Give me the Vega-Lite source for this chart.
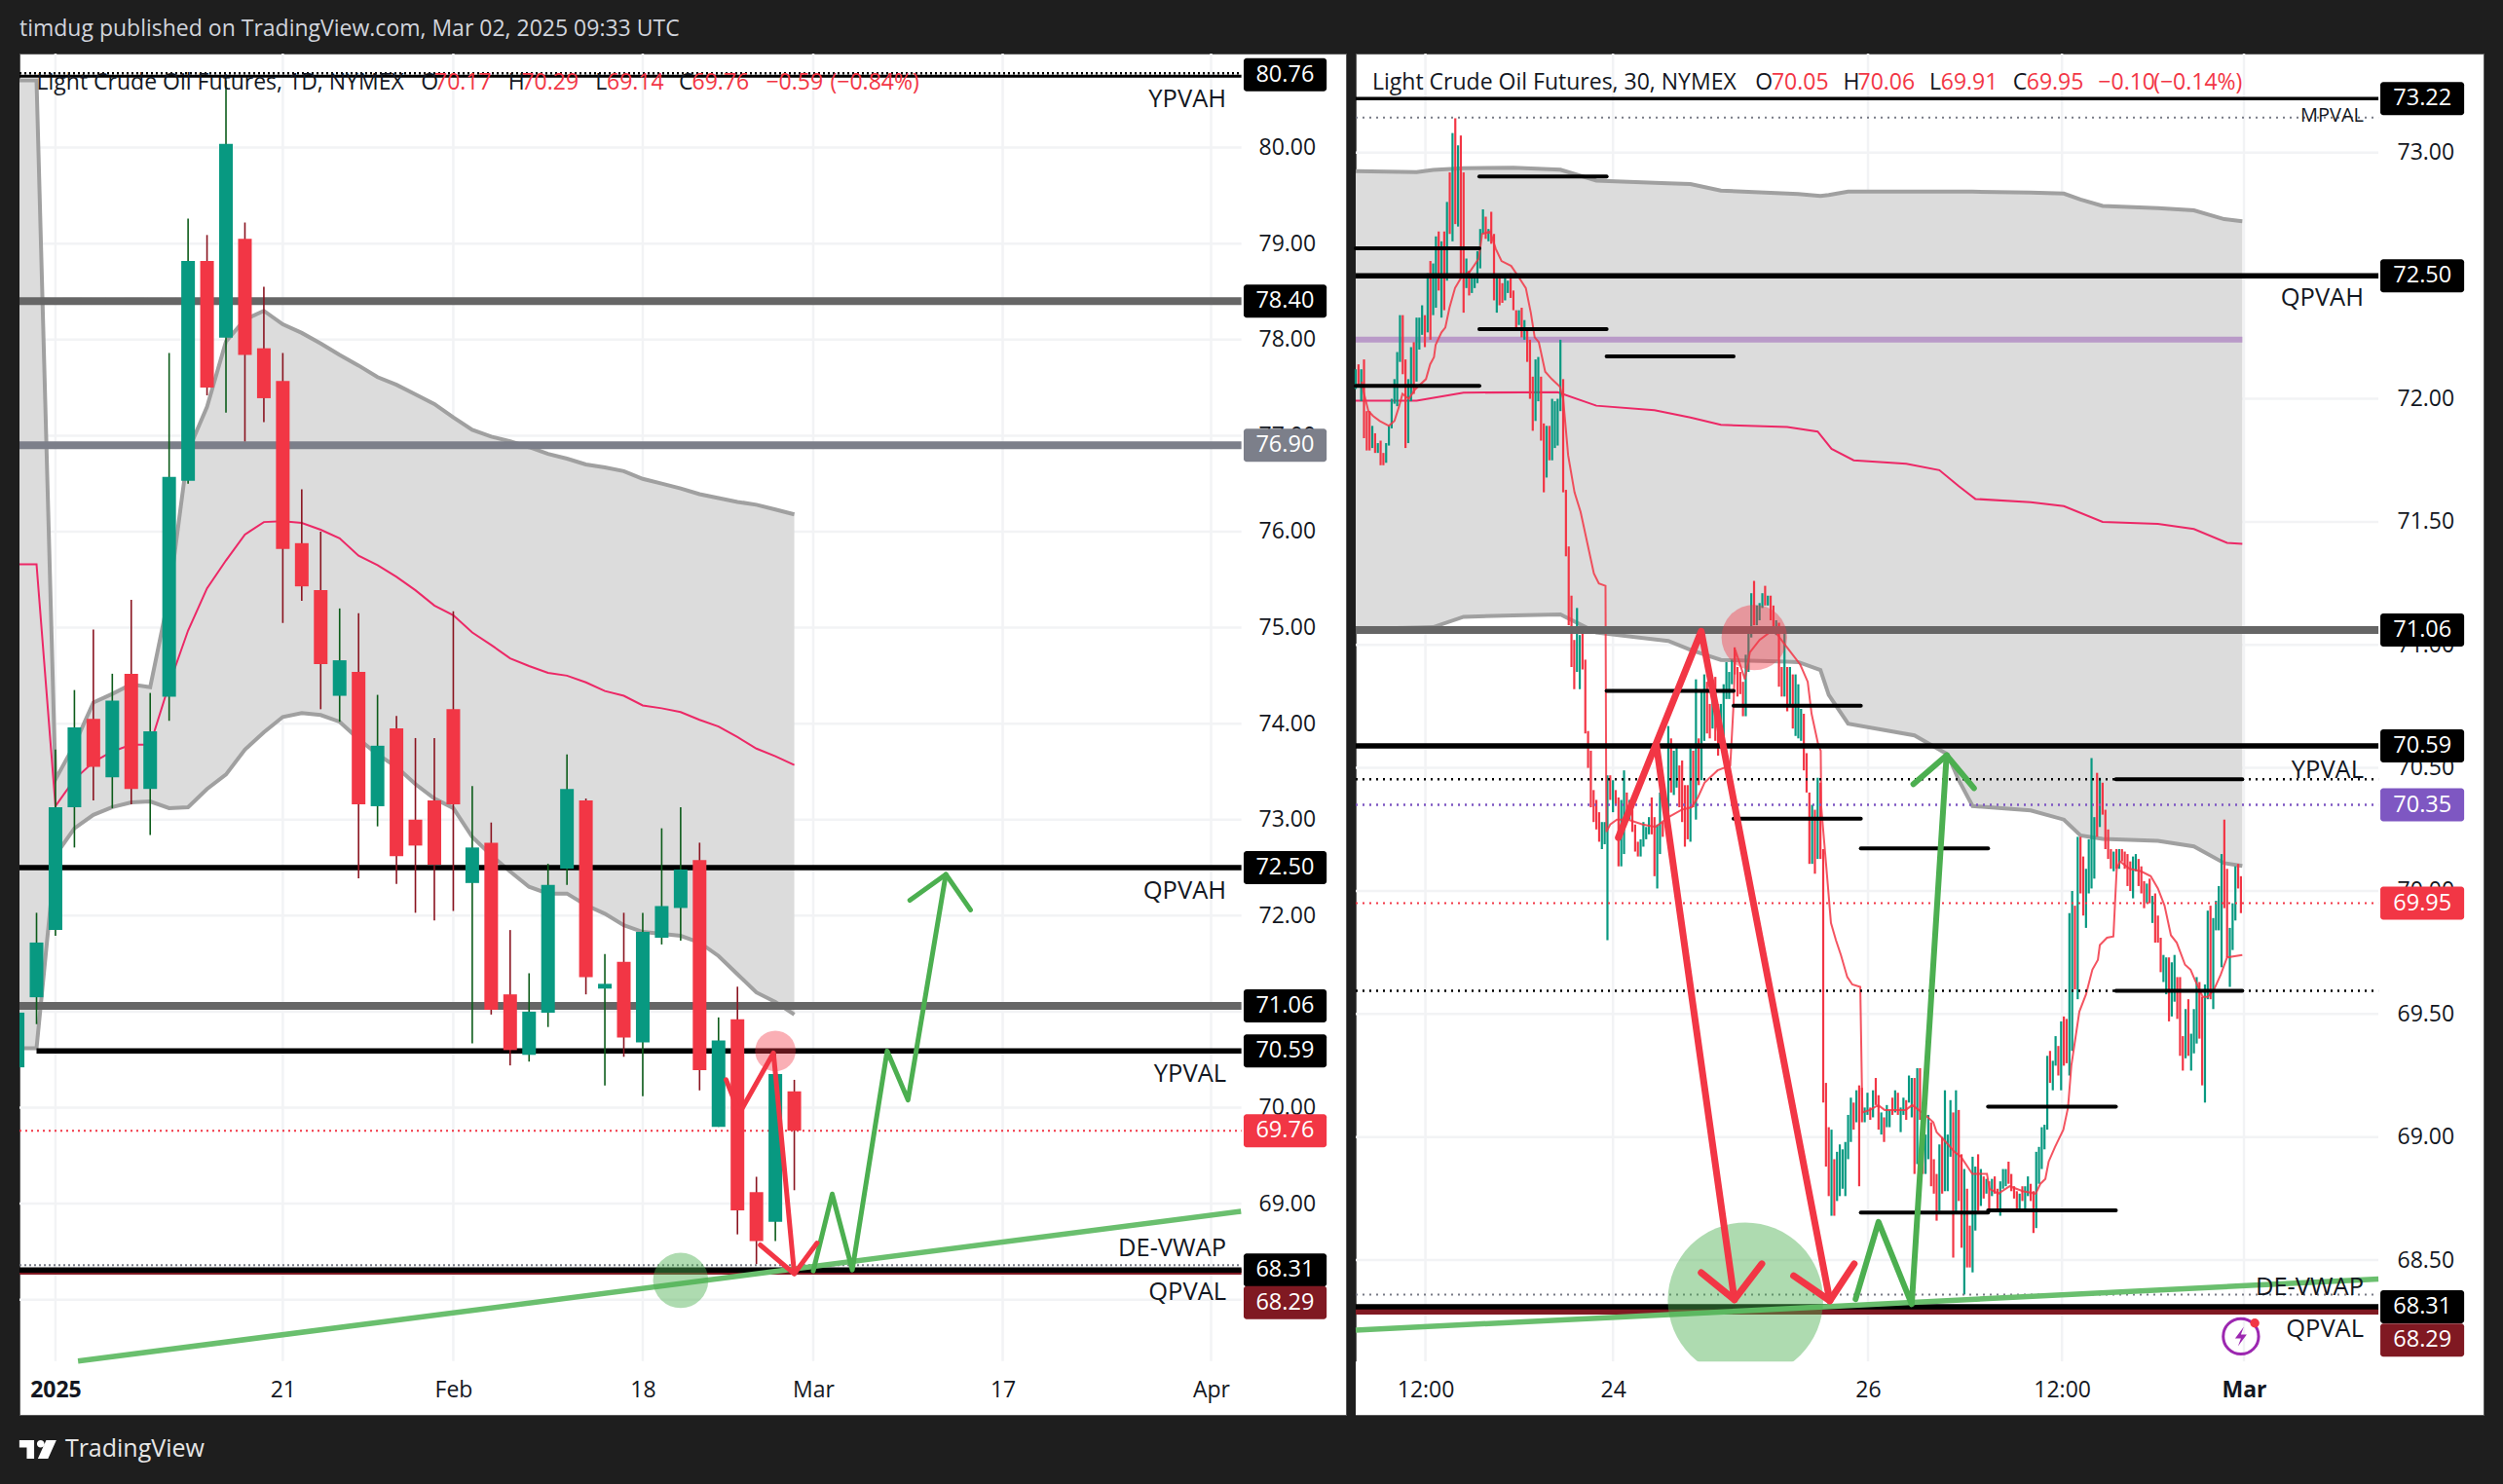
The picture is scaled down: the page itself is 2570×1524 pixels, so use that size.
{
  "$schema": "https://vega.github.io/schema/vega-lite/v6.json",
  "background": "#1e1e1e",
  "padding": {"left": 15, "top": 19, "right": 20, "bottom": 29},
  "title": {"text": "timdug published on TradingView.com, Mar 02, 2025 09:33 UTC", "anchor": "start", "frame": "group", "color": "#d1d4dc", "font": "Open Sans", "fontSize": 23, "fontWeight": "normal", "offset": 11},
  "config": {"view": {"fill": "white", "stroke": "#5a5a5a"}, "font": "Open Sans"},
  "spacing": 10,
  "bounds": "flush",
  "datasets": {
    "leftBars": [
      {"i":-2,"o":70.42,"h":71.0,"l":70.42,"c":70.99,"d":"g"},{"i":-1,"o":71.15,"h":72.03,"l":70.87,"c":71.72,"d":"g"},{"i":0,"o":71.85,"h":73.73,"l":71.79,"c":73.13,"d":"g"},{"i":1,"o":73.13,"h":74.35,"l":72.71,"c":73.96,"d":"g"},{"i":2,"o":74.05,"h":74.98,"l":73.2,"c":73.55,"d":"r"},{"i":3,"o":73.44,"h":74.52,"l":73.12,"c":74.24,"d":"g"},{"i":4,"o":74.52,"h":75.29,"l":73.16,"c":73.32,"d":"r"},{"i":5,"o":73.32,"h":74.32,"l":72.84,"c":73.92,"d":"g"},{"i":6,"o":74.28,"h":77.86,"l":74.03,"c":76.57,"d":"g"},{"i":7,"o":76.53,"h":79.26,"l":76.5,"c":78.82,"d":"g"},
      {"i":8,"o":78.82,"h":79.09,"l":77.42,"c":77.5,"d":"r"},{"i":9,"o":78.02,"h":80.7,"l":77.24,"c":80.04,"d":"g"},{"i":10,"o":79.05,"h":79.22,"l":76.94,"c":77.84,"d":"r"},{"i":11,"o":77.91,"h":78.55,"l":77.14,"c":77.39,"d":"r"},{"i":12,"o":77.57,"h":77.86,"l":75.05,"c":75.82,"d":"r"},{"i":13,"o":75.88,"h":76.44,"l":75.28,"c":75.43,"d":"r"},{"i":14,"o":75.39,"h":76.0,"l":74.15,"c":74.62,"d":"r"},{"i":15,"o":74.29,"h":75.2,"l":74.02,"c":74.66,"d":"g"},{"i":16,"o":74.54,"h":75.15,"l":72.39,"c":73.16,"d":"r"},{"i":17,"o":73.14,"h":74.3,"l":72.93,"c":73.77,"d":"g"},
      {"i":18,"o":73.95,"h":74.08,"l":72.33,"c":72.62,"d":"r"},{"i":19,"o":73.0,"h":73.85,"l":72.03,"c":72.73,"d":"r"},{"i":20,"o":73.2,"h":73.85,"l":71.95,"c":72.53,"d":"r"},{"i":21,"o":74.15,"h":75.17,"l":72.05,"c":73.16,"d":"r"},{"i":22,"o":72.34,"h":73.35,"l":70.67,"c":72.71,"d":"g"},{"i":23,"o":72.76,"h":72.97,"l":70.97,"c":71.02,"d":"r"},{"i":24,"o":71.18,"h":71.85,"l":70.44,"c":70.6,"d":"r"},{"i":25,"o":70.55,"h":71.4,"l":70.48,"c":71.0,"d":"g"},{"i":26,"o":70.99,"h":72.54,"l":70.84,"c":72.32,"d":"g"},{"i":27,"o":72.49,"h":73.68,"l":72.32,"c":73.32,"d":"g"},
      {"i":28,"o":73.2,"h":73.22,"l":71.18,"c":71.36,"d":"r"},{"i":29,"o":71.24,"h":71.6,"l":70.23,"c":71.29,"d":"g"},{"i":30,"o":71.52,"h":72.03,"l":70.53,"c":70.73,"d":"r"},{"i":31,"o":70.68,"h":72.03,"l":70.12,"c":71.83,"d":"g"},{"i":32,"o":71.77,"h":72.91,"l":71.7,"c":72.1,"d":"g"},{"i":33,"o":72.08,"h":73.13,"l":71.74,"c":72.48,"d":"g"},{"i":34,"o":72.58,"h":72.76,"l":70.18,"c":70.39,"d":"r"},{"i":35,"o":69.8,"h":70.94,"l":69.8,"c":70.7,"d":"g"},{"i":36,"o":70.92,"h":71.26,"l":68.68,"c":68.93,"d":"r"},{"i":37,"o":69.12,"h":69.28,"l":68.37,"c":68.61,"d":"r"},{"i":38,"o":68.81,"h":70.57,"l":68.61,"c":70.35,"d":"g"},{"i":39,"o":70.17,"h":70.29,"l":69.14,"c":69.76,"d":"r"}
    ],
    "leftBand": [
      {"i":-2,"upper":80.7,"lower":70.62,"mid":75.66},{"i":-1,"upper":80.7,"lower":70.62,"mid":75.66},{"i":0,"upper":73.42,"lower":72.63,"mid":73.14},{"i":1,"upper":73.78,"lower":72.91,"mid":73.42},{"i":2,"upper":74.22,"lower":73.05,"mid":73.6},{"i":3,"upper":74.31,"lower":73.13,"mid":73.71},{"i":4,"upper":74.41,"lower":73.18,"mid":73.78},{"i":5,"upper":74.38,"lower":73.19,"mid":73.78},{"i":6,"upper":75.34,"lower":73.12,"mid":74.41},{"i":7,"upper":76.84,"lower":73.13,"mid":74.97},
      {"i":8,"upper":77.3,"lower":73.32,"mid":75.41},{"i":9,"upper":77.98,"lower":73.47,"mid":75.7},{"i":10,"upper":78.21,"lower":73.73,"mid":75.97},{"i":11,"upper":78.3,"lower":73.91,"mid":76.1},{"i":12,"upper":78.16,"lower":74.07,"mid":76.11},{"i":13,"upper":78.07,"lower":74.11,"mid":76.09},{"i":14,"upper":77.96,"lower":74.09,"mid":76.02},{"i":15,"upper":77.84,"lower":74.02,"mid":75.93},{"i":16,"upper":77.73,"lower":73.84,"mid":75.75},{"i":17,"upper":77.61,"lower":73.68,"mid":75.65},
      {"i":18,"upper":77.53,"lower":73.55,"mid":75.53},{"i":19,"upper":77.43,"lower":73.37,"mid":75.39},{"i":20,"upper":77.33,"lower":73.22,"mid":75.23},{"i":21,"upper":77.19,"lower":73.12,"mid":75.13},{"i":22,"upper":77.06,"lower":72.82,"mid":74.95},{"i":23,"upper":76.99,"lower":72.63,"mid":74.82},{"i":24,"upper":76.94,"lower":72.46,"mid":74.68},{"i":25,"upper":76.88,"lower":72.3,"mid":74.6},{"i":26,"upper":76.81,"lower":72.23,"mid":74.53},{"i":27,"upper":76.76,"lower":72.23,"mid":74.5},
      {"i":28,"upper":76.7,"lower":72.11,"mid":74.43},{"i":29,"upper":76.67,"lower":72.02,"mid":74.34},{"i":30,"upper":76.63,"lower":71.9,"mid":74.29},{"i":31,"upper":76.55,"lower":71.83,"mid":74.19},{"i":32,"upper":76.5,"lower":71.81,"mid":74.16},{"i":33,"upper":76.45,"lower":71.79,"mid":74.12},{"i":34,"upper":76.39,"lower":71.72,"mid":74.04},{"i":35,"upper":76.35,"lower":71.58,"mid":73.97},{"i":36,"upper":76.31,"lower":71.39,"mid":73.86},{"i":37,"upper":76.28,"lower":71.2,"mid":73.74},{"i":38,"upper":76.23,"lower":71.1,"mid":73.66},{"i":39,"upper":76.18,"lower":70.97,"mid":73.57}
    ],
    "rightBars": [
      {"b":0,"h":72.12,"l":72.04,"d":"g"},{"b":1,"h":72.14,"l":72.05,"d":"r"},{"b":2,"h":72.12,"l":71.99,"d":"g"},{"b":3,"h":72.16,"l":71.84,"d":"r"},{"b":4,"h":71.95,"l":71.79,"d":"r"},{"b":5,"h":71.95,"l":71.79,"d":"r"},{"b":6,"h":71.89,"l":71.8,"d":"g"},{"b":7,"h":71.86,"l":71.78,"d":"r"},{"b":8,"h":71.82,"l":71.78,"d":"g"},{"b":9,"h":71.83,"l":71.73,"d":"r"},
      {"b":10,"h":71.78,"l":71.73,"d":"r"},{"b":11,"h":71.82,"l":71.74,"d":"g"},{"b":12,"h":71.89,"l":71.81,"d":"g"},{"b":13,"h":72.0,"l":71.88,"d":"g"},{"b":14,"h":72.08,"l":71.98,"d":"g"},{"b":15,"h":72.19,"l":71.97,"d":"g"},{"b":16,"h":72.34,"l":72.15,"d":"g"},{"b":17,"h":72.34,"l":72.1,"d":"r"},{"b":18,"h":72.16,"l":71.8,"d":"r"},{"b":19,"h":72.08,"l":71.82,"d":"g"},
      {"b":20,"h":72.21,"l":71.99,"d":"g"},{"b":21,"h":72.23,"l":72.02,"d":"r"},{"b":22,"h":72.33,"l":72.07,"d":"g"},{"b":23,"h":72.33,"l":72.2,"d":"g"},{"b":24,"h":72.38,"l":72.26,"d":"g"},{"b":25,"h":72.34,"l":72.21,"d":"r"},{"b":26,"h":72.51,"l":72.27,"d":"g"},{"b":27,"h":72.56,"l":72.24,"d":"r"},{"b":28,"h":72.55,"l":72.34,"d":"g"},{"b":29,"h":72.66,"l":72.37,"d":"g"},
      {"b":30,"h":72.68,"l":72.44,"d":"r"},{"b":31,"h":72.64,"l":72.33,"d":"g"},{"b":32,"h":72.68,"l":72.36,"d":"r"},{"b":33,"h":72.8,"l":72.48,"d":"g"},{"b":34,"h":72.92,"l":72.67,"d":"r"},{"b":35,"h":73.08,"l":72.64,"d":"g"},{"b":36,"h":73.14,"l":72.71,"d":"r"},{"b":37,"h":73.03,"l":72.7,"d":"g"},{"b":38,"h":73.07,"l":72.49,"d":"r"},{"b":39,"h":72.92,"l":72.35,"d":"r"},
      {"b":40,"h":72.57,"l":72.45,"d":"g"},{"b":41,"h":72.52,"l":72.42,"d":"r"},{"b":42,"h":72.5,"l":72.43,"d":"g"},{"b":43,"h":72.5,"l":72.45,"d":"g"},{"b":44,"h":72.6,"l":72.47,"d":"g"},{"b":45,"h":72.69,"l":72.53,"d":"g"},{"b":46,"h":72.77,"l":72.67,"d":"g"},{"b":47,"h":72.74,"l":72.65,"d":"r"},{"b":48,"h":72.69,"l":72.64,"d":"g"},{"b":49,"h":72.76,"l":72.63,"d":"r"},
      {"b":50,"h":72.67,"l":72.4,"d":"r"},{"b":51,"h":72.49,"l":72.35,"d":"g"},{"b":52,"h":72.49,"l":72.38,"d":"r"},{"b":53,"h":72.47,"l":72.39,"d":"r"},{"b":54,"h":72.49,"l":72.4,"d":"g"},{"b":55,"h":72.48,"l":72.43,"d":"g"},{"b":56,"h":72.51,"l":72.41,"d":"r"},{"b":57,"h":72.44,"l":72.36,"d":"r"},{"b":58,"h":72.36,"l":72.29,"d":"r"},{"b":59,"h":72.36,"l":72.3,"d":"g"},
      {"b":60,"h":72.37,"l":72.25,"d":"r"},{"b":61,"h":72.32,"l":72.24,"d":"g"},{"b":62,"h":72.28,"l":72.15,"d":"r"},{"b":63,"h":72.24,"l":72.0,"d":"r"},{"b":64,"h":72.09,"l":71.87,"d":"r"},{"b":65,"h":72.16,"l":71.91,"d":"g"},{"b":66,"h":72.17,"l":71.99,"d":"g"},{"b":67,"h":72.09,"l":71.83,"d":"r"},{"b":68,"h":71.9,"l":71.62,"d":"r"},{"b":69,"h":71.89,"l":71.68,"d":"g"},
      {"b":70,"h":71.89,"l":71.75,"d":"r"},{"b":71,"h":72.0,"l":71.75,"d":"g"},{"b":72,"h":71.99,"l":71.8,"d":"g"},{"b":73,"h":72.0,"l":71.81,"d":"g"},{"b":74,"h":72.24,"l":71.95,"d":"g"},{"b":75,"h":72.08,"l":71.62,"d":"r"},{"b":76,"h":71.63,"l":71.36,"d":"r"},{"b":77,"h":71.4,"l":71.08,"d":"r"},{"b":78,"h":71.2,"l":70.91,"d":"r"},{"b":79,"h":71.02,"l":70.82,"d":"r"},
      {"b":80,"h":71.15,"l":70.89,"d":"g"},{"b":81,"h":71.04,"l":70.82,"d":"g"},{"b":82,"h":71.06,"l":70.9,"d":"r"},{"b":83,"h":70.94,"l":70.64,"d":"r"},{"b":84,"h":70.65,"l":70.5,"d":"r"},{"b":85,"h":70.57,"l":70.34,"d":"r"},{"b":86,"h":70.41,"l":70.28,"d":"r"},{"b":87,"h":70.37,"l":70.25,"d":"r"},{"b":88,"h":70.32,"l":70.2,"d":"r"},{"b":89,"h":70.28,"l":70.17,"d":"g"},
      {"b":90,"h":70.28,"l":70.19,"d":"g"},{"b":91,"h":70.47,"l":69.8,"d":"g"},{"b":92,"h":70.47,"l":70.37,"d":"r"},{"b":93,"h":70.45,"l":70.32,"d":"g"},{"b":94,"h":70.41,"l":70.35,"d":"r"},{"b":95,"h":70.38,"l":70.1,"d":"r"},{"b":96,"h":70.37,"l":70.1,"d":"g"},{"b":97,"h":70.49,"l":70.15,"d":"g"},{"b":98,"h":70.4,"l":70.3,"d":"r"},{"b":99,"h":70.37,"l":70.29,"d":"g"},
      {"b":100,"h":70.33,"l":70.24,"d":"r"},{"b":101,"h":70.27,"l":70.16,"d":"r"},{"b":102,"h":70.2,"l":70.14,"d":"r"},{"b":103,"h":70.21,"l":70.14,"d":"g"},{"b":104,"h":70.28,"l":70.18,"d":"g"},{"b":105,"h":70.26,"l":70.21,"d":"g"},{"b":106,"h":70.3,"l":70.23,"d":"g"},{"b":107,"h":70.38,"l":70.23,"d":"r"},{"b":108,"h":70.3,"l":70.06,"d":"r"},{"b":109,"h":70.27,"l":70.01,"d":"g"},
      {"b":110,"h":70.4,"l":70.15,"d":"g"},{"b":111,"h":70.28,"l":70.22,"d":"r"},{"b":112,"h":70.36,"l":70.26,"d":"r"},{"b":113,"h":70.67,"l":70.25,"d":"g"},{"b":114,"h":70.62,"l":70.4,"d":"r"},{"b":115,"h":70.57,"l":70.39,"d":"g"},{"b":116,"h":70.59,"l":70.42,"d":"g"},{"b":117,"h":70.51,"l":70.34,"d":"r"},{"b":118,"h":70.53,"l":70.28,"d":"r"},{"b":119,"h":70.43,"l":70.18,"d":"r"},
      {"b":120,"h":70.43,"l":70.21,"d":"r"},{"b":121,"h":70.58,"l":70.2,"d":"g"},{"b":122,"h":70.57,"l":70.34,"d":"r"},{"b":123,"h":70.86,"l":70.29,"d":"g"},{"b":124,"h":70.62,"l":70.43,"d":"r"},{"b":125,"h":70.81,"l":70.45,"d":"g"},{"b":126,"h":70.88,"l":70.61,"d":"g"},{"b":127,"h":70.85,"l":70.64,"d":"r"},{"b":128,"h":70.76,"l":70.62,"d":"r"},{"b":129,"h":70.82,"l":70.66,"d":"g"},
      {"b":130,"h":70.87,"l":70.61,"d":"r"},{"b":131,"h":70.76,"l":70.55,"d":"r"},{"b":132,"h":70.76,"l":70.64,"d":"g"},{"b":133,"h":70.84,"l":70.59,"d":"g"},{"b":134,"h":70.93,"l":70.78,"d":"g"},{"b":135,"h":70.89,"l":70.78,"d":"g"},{"b":136,"h":70.94,"l":70.84,"d":"g"},{"b":137,"h":70.99,"l":70.88,"d":"r"},{"b":138,"h":70.91,"l":70.79,"d":"r"},{"b":139,"h":70.89,"l":70.8,"d":"r"},
      {"b":140,"h":70.85,"l":70.71,"d":"r"},{"b":141,"h":70.96,"l":70.71,"d":"g"},{"b":142,"h":71.06,"l":70.89,"d":"g"},{"b":143,"h":71.21,"l":71.03,"d":"g"},{"b":144,"h":71.26,"l":71.08,"d":"r"},{"b":145,"h":71.16,"l":71.08,"d":"g"},{"b":146,"h":71.17,"l":71.1,"d":"g"},{"b":147,"h":71.21,"l":71.15,"d":"g"},{"b":148,"h":71.24,"l":71.16,"d":"r"},{"b":149,"h":71.2,"l":71.16,"d":"g"},
      {"b":150,"h":71.2,"l":71.1,"d":"r"},{"b":151,"h":71.16,"l":71.06,"d":"r"},{"b":152,"h":71.1,"l":71.04,"d":"g"},{"b":153,"h":71.09,"l":70.83,"d":"r"},{"b":154,"h":70.91,"l":70.79,"d":"r"},{"b":155,"h":71.07,"l":70.79,"d":"g"},{"b":156,"h":70.91,"l":70.73,"d":"r"},{"b":157,"h":70.91,"l":70.75,"d":"g"},{"b":158,"h":70.88,"l":70.66,"d":"r"},{"b":159,"h":70.88,"l":70.63,"d":"g"},
      {"b":160,"h":70.84,"l":70.62,"d":"g"},{"b":161,"h":70.74,"l":70.61,"d":"g"},{"b":162,"h":70.72,"l":70.49,"d":"r"},{"b":163,"h":70.56,"l":70.4,"d":"r"},{"b":164,"h":70.4,"l":70.11,"d":"r"},{"b":165,"h":70.35,"l":70.11,"d":"g"},{"b":166,"h":70.33,"l":70.07,"d":"r"},{"b":167,"h":70.46,"l":70.13,"d":"g"},{"b":168,"h":70.44,"l":70.13,"d":"r"},{"b":169,"h":70.17,"l":69.14,"d":"r"},
      {"b":170,"h":69.22,"l":68.88,"d":"r"},{"b":171,"h":69.04,"l":68.76,"d":"r"},{"b":172,"h":69.03,"l":68.68,"d":"g"},{"b":173,"h":68.91,"l":68.68,"d":"r"},{"b":174,"h":68.94,"l":68.74,"d":"g"},{"b":175,"h":68.97,"l":68.76,"d":"g"},{"b":176,"h":68.95,"l":68.79,"d":"g"},{"b":177,"h":68.98,"l":68.76,"d":"g"},{"b":178,"h":69.09,"l":68.91,"d":"g"},{"b":179,"h":69.16,"l":68.98,"d":"g"},
      {"b":180,"h":69.14,"l":69.03,"d":"r"},{"b":181,"h":69.19,"l":69.06,"d":"g"},{"b":182,"h":69.21,"l":68.8,"d":"r"},{"b":183,"h":69.2,"l":69.06,"d":"r"},{"b":184,"h":69.12,"l":69.06,"d":"g"},{"b":185,"h":69.18,"l":69.09,"d":"g"},{"b":186,"h":69.12,"l":69.07,"d":"r"},{"b":187,"h":69.19,"l":69.08,"d":"g"},{"b":188,"h":69.24,"l":69.13,"d":"r"},{"b":189,"h":69.17,"l":69.03,"d":"r"},
      {"b":190,"h":69.1,"l":69.01,"d":"g"},{"b":191,"h":69.08,"l":68.98,"d":"r"},{"b":192,"h":69.13,"l":69.04,"d":"g"},{"b":193,"h":69.11,"l":69.04,"d":"g"},{"b":194,"h":69.16,"l":69.09,"d":"r"},{"b":195,"h":69.19,"l":69.1,"d":"g"},{"b":196,"h":69.18,"l":69.09,"d":"r"},{"b":197,"h":69.12,"l":69.02,"d":"g"},{"b":198,"h":69.16,"l":69.09,"d":"g"},{"b":199,"h":69.15,"l":69.07,"d":"r"},
      {"b":200,"h":69.25,"l":69.14,"d":"g"},{"b":201,"h":69.24,"l":69.08,"d":"g"},{"b":202,"h":69.24,"l":68.85,"d":"r"},{"b":203,"h":69.28,"l":68.89,"d":"g"},{"b":204,"h":69.28,"l":69.07,"d":"r"},{"b":205,"h":69.04,"l":68.85,"d":"r"},{"b":206,"h":69.01,"l":68.85,"d":"g"},{"b":207,"h":69.09,"l":68.91,"d":"g"},{"b":208,"h":69.06,"l":68.8,"d":"r"},{"b":209,"h":68.91,"l":68.77,"d":"r"},
      {"b":210,"h":68.85,"l":68.66,"d":"r"},{"b":211,"h":68.97,"l":68.7,"d":"g"},{"b":212,"h":69.0,"l":68.77,"d":"r"},{"b":213,"h":69.19,"l":68.78,"d":"g"},{"b":214,"h":69.01,"l":68.78,"d":"g"},{"b":215,"h":69.15,"l":68.92,"d":"g"},{"b":216,"h":69.1,"l":68.51,"d":"r"},{"b":217,"h":69.19,"l":68.69,"d":"g"},{"b":218,"h":69.11,"l":68.74,"d":"r"},{"b":219,"h":68.93,"l":68.55,"d":"r"},
      {"b":220,"h":68.87,"l":68.36,"d":"g"},{"b":221,"h":68.79,"l":68.47,"d":"r"},{"b":222,"h":68.64,"l":68.47,"d":"r"},{"b":223,"h":68.92,"l":68.45,"d":"g"},{"b":224,"h":68.88,"l":68.62,"d":"g"},{"b":225,"h":68.93,"l":68.7,"d":"r"},{"b":226,"h":68.87,"l":68.72,"d":"g"},{"b":227,"h":68.84,"l":68.75,"d":"r"},{"b":228,"h":68.83,"l":68.77,"d":"g"},{"b":229,"h":68.82,"l":68.7,"d":"r"},
      {"b":230,"h":68.83,"l":68.76,"d":"g"},{"b":231,"h":68.84,"l":68.77,"d":"r"},{"b":232,"h":68.79,"l":68.71,"d":"r"},{"b":233,"h":68.82,"l":68.68,"d":"g"},{"b":234,"h":68.87,"l":68.79,"d":"g"},{"b":235,"h":68.87,"l":68.8,"d":"g"},{"b":236,"h":68.9,"l":68.81,"d":"r"},{"b":237,"h":68.85,"l":68.78,"d":"r"},{"b":238,"h":68.8,"l":68.75,"d":"r"},{"b":239,"h":68.78,"l":68.7,"d":"r"},
      {"b":240,"h":68.77,"l":68.7,"d":"g"},{"b":241,"h":68.8,"l":68.74,"d":"r"},{"b":242,"h":68.8,"l":68.7,"d":"g"},{"b":243,"h":68.84,"l":68.76,"d":"g"},{"b":244,"h":68.81,"l":68.74,"d":"r"},{"b":245,"h":68.78,"l":68.61,"d":"r"},{"b":246,"h":68.94,"l":68.63,"d":"g"},{"b":247,"h":68.96,"l":68.81,"d":"g"},{"b":248,"h":69.04,"l":68.87,"d":"g"},{"b":249,"h":69.05,"l":68.95,"d":"g"},
      {"b":250,"h":69.33,"l":69.03,"d":"g"},{"b":251,"h":69.35,"l":69.22,"d":"r"},{"b":252,"h":69.31,"l":69.19,"d":"g"},{"b":253,"h":69.41,"l":69.29,"d":"g"},{"b":254,"h":69.37,"l":69.25,"d":"r"},{"b":255,"h":69.47,"l":69.19,"d":"g"},{"b":256,"h":69.49,"l":69.29,"d":"r"},{"b":257,"h":69.48,"l":69.3,"d":"r"},{"b":258,"h":69.91,"l":69.25,"d":"g"},{"b":259,"h":70.0,"l":69.35,"d":"g"},
      {"b":260,"h":69.94,"l":69.6,"d":"r"},{"b":261,"h":70.22,"l":69.56,"d":"g"},{"b":262,"h":70.22,"l":69.99,"d":"r"},{"b":263,"h":70.14,"l":69.9,"d":"r"},{"b":264,"h":70.09,"l":69.85,"d":"g"},{"b":265,"h":70.21,"l":69.99,"d":"g"},{"b":266,"h":70.54,"l":70.01,"d":"g"},{"b":267,"h":70.3,"l":70.05,"d":"g"},{"b":268,"h":70.48,"l":70.22,"d":"r"},{"b":269,"h":70.46,"l":70.26,"d":"g"},
      {"b":270,"h":70.44,"l":70.31,"d":"r"},{"b":271,"h":70.33,"l":70.17,"d":"r"},{"b":272,"h":70.25,"l":70.13,"d":"r"},{"b":273,"h":70.17,"l":70.09,"d":"r"},{"b":274,"h":70.16,"l":70.08,"d":"g"},{"b":275,"h":70.17,"l":70.09,"d":"r"},{"b":276,"h":70.17,"l":70.09,"d":"g"},{"b":277,"h":70.17,"l":70.12,"d":"r"},{"b":278,"h":70.16,"l":70.09,"d":"r"},{"b":279,"h":70.15,"l":70.02,"d":"r"},
      {"b":280,"h":70.12,"l":70.0,"d":"r"},{"b":281,"h":70.14,"l":69.97,"d":"g"},{"b":282,"h":70.15,"l":70.08,"d":"g"},{"b":283,"h":70.13,"l":70.02,"d":"r"},{"b":284,"h":70.1,"l":69.99,"d":"r"},{"b":285,"h":70.04,"l":69.93,"d":"r"},{"b":286,"h":70.03,"l":69.95,"d":"g"},{"b":287,"h":70.05,"l":69.95,"d":"r"},{"b":288,"h":69.98,"l":69.87,"d":"g"},{"b":289,"h":69.99,"l":69.79,"d":"r"},
      {"b":290,"h":69.9,"l":69.79,"d":"r"},{"b":291,"h":69.81,"l":69.67,"d":"r"},{"b":292,"h":69.74,"l":69.63,"d":"g"},{"b":293,"h":69.73,"l":69.58,"d":"g"},{"b":294,"h":69.73,"l":69.47,"d":"r"},{"b":295,"h":69.71,"l":69.49,"d":"g"},{"b":296,"h":69.74,"l":69.55,"d":"g"},{"b":297,"h":69.65,"l":69.48,"d":"r"},{"b":298,"h":69.65,"l":69.33,"d":"r"},{"b":299,"h":69.41,"l":69.27,"d":"r"},
      {"b":300,"h":69.52,"l":69.32,"d":"g"},{"b":301,"h":69.56,"l":69.33,"d":"r"},{"b":302,"h":69.42,"l":69.27,"d":"g"},{"b":303,"h":69.52,"l":69.34,"d":"g"},{"b":304,"h":69.65,"l":69.38,"d":"g"},{"b":305,"h":69.63,"l":69.4,"d":"r"},{"b":306,"h":69.57,"l":69.21,"d":"r"},{"b":307,"h":69.62,"l":69.14,"d":"g"},{"b":308,"h":69.92,"l":69.56,"d":"g"},{"b":309,"h":69.94,"l":69.56,"d":"r"},
      {"b":310,"h":69.89,"l":69.52,"d":"g"},{"b":311,"h":69.96,"l":69.84,"d":"g"},{"b":312,"h":70.02,"l":69.84,"d":"g"},{"b":313,"h":70.15,"l":69.69,"d":"g"},{"b":314,"h":70.29,"l":69.93,"d":"r"},{"b":315,"h":70.09,"l":69.73,"d":"r"},{"b":316,"h":69.85,"l":69.61,"d":"g"},{"b":317,"h":69.95,"l":69.76,"d":"g"},{"b":318,"h":70.1,"l":69.88,"d":"g"},{"b":319,"h":70.11,"l":70.01,"d":"r"},{"b":320,"h":70.06,"l":69.91,"d":"r"}
    ],
    "rightBand": [
      {"b":0,"upper":72.925,"lower":71.064},{"b":22,"upper":72.921,"lower":71.07},{"b":28,"upper":72.93,"lower":71.072},{"b":39,"upper":72.937,"lower":71.114},{"b":57,"upper":72.939,"lower":71.12},{"b":74,"upper":72.931,"lower":71.124},{"b":87,"upper":72.887,"lower":71.05},{"b":113,"upper":72.876,"lower":71.016},{"b":121,"upper":72.873,"lower":70.98},{"b":132,"upper":72.846,"lower":70.939},{"b":156,"upper":72.834,"lower":70.932},{"b":160,"upper":72.832,"lower":70.93},{"b":168,"upper":72.824,"lower":70.898},{"b":171,"upper":72.828,"lower":70.797},{"b":178,"upper":72.842,"lower":70.68},{"b":202,"upper":72.842,"lower":70.632},{"b":214,"upper":72.842,"lower":70.555},{"b":218,"upper":72.842,"lower":70.45},{"b":223,"upper":72.842,"lower":70.345},{"b":244,"upper":72.838,"lower":70.327},{"b":256,"upper":72.834,"lower":70.29},{"b":262,"upper":72.81,"lower":70.226},{"b":270,"upper":72.784,"lower":70.212},{"b":290,"upper":72.775,"lower":70.204},{"b":303,"upper":72.766,"lower":70.181},{"b":314,"upper":72.73,"lower":70.113},{"b":320.5,"upper":72.721,"lower":70.102}
    ],
    "rightMid": [
      {"b":0,"p":71.992},{"b":22,"p":71.992},{"b":39,"p":72.025},{"b":73,"p":72.027},{"b":87,"p":71.972},{"b":108,"p":71.954},{"b":121,"p":71.924},{"b":132,"p":71.894},{"b":156,"p":71.885},{"b":167,"p":71.867},{"b":172,"p":71.797},{"b":180,"p":71.75},{"b":199,"p":71.736},{"b":211,"p":71.71},{"b":218,"p":71.645},{"b":224,"p":71.593},{"b":244,"p":71.58},{"b":256,"p":71.564},{"b":270,"p":71.5},{"b":290,"p":71.492},{"b":303,"p":71.471},{"b":315,"p":71.415},{"b":320.5,"p":71.411}
    ],
    "rightEma": [
      {"b":2.2,"p":72.07},{"b":2.8,"p":72.03},{"b":4.6,"p":71.95},{"b":6.3,"p":71.93},{"b":8.7,"p":71.91},{"b":12,"p":71.89},{"b":14,"p":71.91},{"b":15.7,"p":71.97},{"b":16.9,"p":72.02},{"b":19.2,"p":72.0},{"b":21.6,"p":72.04},{"b":25.4,"p":72.08},{"b":26.9,"p":72.14},{"b":28.3,"p":72.17},{"b":28.9,"p":72.22},{"b":31,"p":72.27},{"b":32.4,"p":72.29},{"b":33.9,"p":72.37},{"b":35.9,"p":72.45},{"b":38,"p":72.49},{"b":41.5,"p":72.52},{"b":44.5,"p":72.57},{"b":45.7,"p":72.67},{"b":48.6,"p":72.68},{"b":50.6,"p":72.61},{"b":52.7,"p":72.56},{"b":56.2,"p":72.54},{"b":59.2,"p":72.49},{"b":61.5,"p":72.45},{"b":63.3,"p":72.35},{"b":64.7,"p":72.25},{"b":66.2,"p":72.23},{"b":68.5,"p":72.11},{"b":70.9,"p":72.08},{"b":73.8,"p":72.05},{"b":75,"p":72.0},{"b":76.8,"p":71.77},{"b":79.1,"p":71.62},{"b":81.3,"p":71.54},{"b":86.1,"p":71.29},{"b":87.9,"p":71.25},{"b":90.3,"p":71.24},
      {"b":90.6,"p":70.24},{"b":92,"p":70.27},{"b":94.4,"p":70.29},{"b":98.5,"p":70.29},{"b":103.8,"p":70.27},{"b":108.4,"p":70.26},{"b":113.1,"p":70.3},{"b":117.8,"p":70.33},{"b":121.4,"p":70.34},{"b":123.7,"p":70.38},{"b":126.1,"p":70.44},{"b":130.8,"p":70.49},{"b":135.4,"p":70.51},{"b":136.6,"p":70.76},{"b":137.2,"p":70.98},{"b":140.7,"p":70.86},{"b":142.5,"p":70.97},{"b":146,"p":71.02},{"b":149.5,"p":71.05},{"b":151.9,"p":71.05},{"b":156.6,"p":70.98},{"b":160.7,"p":70.92},{"b":163.4,"p":70.85},{"b":164.8,"p":70.72},{"b":167.1,"p":70.6},{"b":168.1,"p":70.57},{"b":168.3,"p":70.34},{"b":170.1,"p":70.1},{"b":171.8,"p":69.87},{"b":173.6,"p":69.8},{"b":175.4,"p":69.74},{"b":177.7,"p":69.65},{"b":179.5,"p":69.62},{"b":182.4,"p":69.61},{"b":183,"p":69.2},{"b":183.2,"p":69.1},{"b":185.9,"p":69.11},{"b":188.9,"p":69.13},{"b":191.2,"p":69.11},{"b":198.8,"p":69.11},{"b":201.2,"p":69.13},{"b":203.5,"p":69.11},{"b":205.9,"p":69.09},{"b":208.8,"p":69.06},{"b":210,"p":69.02},{"b":211.7,"p":69.0},{"b":214.1,"p":68.97},{"b":216.4,"p":68.94},{"b":218.8,"p":68.92},{"b":222.9,"p":68.85},{"b":228.2,"p":68.85},{"b":229.1,"p":68.79},{"b":232.3,"p":68.77},{"b":236.4,"p":68.8},{"b":241.1,"p":68.78},{"b":245.8,"p":68.77},{"b":247.5,"p":68.81},{"b":249.3,"p":68.83},{"b":250.5,"p":68.9},{"b":252.8,"p":68.96},{"b":255.8,"p":69.03},{"b":257.5,"p":69.12},{"b":258.7,"p":69.29},{"b":261.6,"p":69.51},{"b":264,"p":69.58},{"b":266.3,"p":69.68},{"b":268.3,"p":69.72},{"b":269,"p":69.78},{"b":271.6,"p":69.81},{"b":273.9,"p":69.815},{"b":275.1,"p":70.09},{"b":276.3,"p":70.12},{"b":279.8,"p":70.09},{"b":283.9,"p":70.08},{"b":287.4,"p":70.06},{"b":290,"p":70.01},{"b":292.4,"p":69.94},{"b":294.7,"p":69.82},{"b":296.8,"p":69.79},{"b":299.8,"p":69.7},{"b":301.8,"p":69.68},{"b":303.3,"p":69.64},{"b":306.2,"p":69.57},{"b":308,"p":69.57},{"b":310.3,"p":69.6},{"b":312.7,"p":69.66},{"b":315,"p":69.73},{"b":320.5,"p":69.74}
    ]
  },
  "hconcat": [
    {
      "width": 1362,
      "height": 1398,
      "resolve": {"scale": {"color": "independent", "strokeWidth": "independent", "strokeDash": "independent"}},
      "layer": [
        {
          "data": {"values": [{"price":68},{"price":69},{"price":70},{"price":71},{"price":72},{"price":73},{"price":74},{"price":75},{"price":76},{"price":77},{"price":78},{"price":79},{"price":80}]},
          "mark": {"type": "rule", "color": "#f2f3f5", "strokeWidth": 2.5},
          "encoding": {
            "x": {"datum": -1.9, "type": "quantitative", "title": null, "scale": {"domain": [-1.9, 68.12], "nice": false, "zero": false, "padding": 0}, "axis": {"values": [0,12,21,31,40,50,61], "orient": "bottom", "offset": -55, "labelPadding": 18, "labelFontSize": 23, "labelFont": "Open Sans", "labelColor": "#131722", "labelFontWeight": {"condition": {"test": "datum.value==0", "value": "bold"}, "value": "normal"}, "labelExpr": "{'0':'2025','12':'21','21':'Feb','31':'18','40':'Mar','50':'17','61':'Apr'}[''+datum.value]", "labelOverlap": false, "labelBound": false, "labelFlush": false, "domain": false, "ticks": false, "grid": false, "title": null}},
            "x2": {"datum": 62.6},
            "y": {"field": "price", "type": "quantitative", "title": null, "scale": {"domain": [66.8, 80.98], "nice": false, "zero": false, "padding": 0}, "axis": {"values": [68,69,70,71,72,73,74,75,76,77,78,79,80], "orient": "right", "offset": -106, "labelPadding": 16, "format": ".2f", "labelFontSize": 23, "labelFont": "Open Sans", "labelColor": "#131722", "labelOverlap": false, "labelBound": false, "domain": false, "ticks": false, "grid": false, "title": null}}
          }
        },
        {
          "data": {"values": [{"t":0},{"t":12},{"t":21},{"t":31},{"t":40},{"t":50},{"t":61}]},
          "mark": {"type": "rule", "color": "#f2f3f5", "strokeWidth": 2.5},
          "encoding": {"x": {"field": "t", "type": "quantitative", "title": null}, "y": {"datum": 67.36, "title": null}, "y2": {"datum": 80.98}}
        },
        {
          "data": {"name": "leftBand"},
          "mark": {"type": "area", "color": "#dcdcdc", "clip": true},
          "encoding": {"x": {"field": "i", "type": "quantitative", "title": null}, "y": {"field": "upper", "type": "quantitative", "title": null}, "y2": {"field": "lower"}}
        },
        {
          "data": {"name": "leftBand"},
          "mark": {"type": "line", "color": "#a0a0a0", "strokeWidth": 4, "clip": true},
          "encoding": {"x": {"field": "i", "type": "quantitative", "title": null}, "y": {"field": "upper", "type": "quantitative", "title": null}}
        },
        {
          "data": {"name": "leftBand"},
          "mark": {"type": "line", "color": "#a0a0a0", "strokeWidth": 4, "clip": true},
          "encoding": {"x": {"field": "i", "type": "quantitative", "title": null}, "y": {"field": "lower", "type": "quantitative", "title": null}}
        },
        {
          "data": {"name": "leftBand"},
          "mark": {"type": "line", "color": "#ec2866", "strokeWidth": 2, "clip": true},
          "encoding": {"x": {"field": "i", "type": "quantitative", "title": null}, "y": {"field": "mid", "type": "quantitative", "title": null}}
        },
        {
          "data": {"values": [
            {"price":68.29,"kind":"maroon"},{"price":68.31,"kind":"heavy"},{"price":68.36,"kind":"graydot"},{"price":72.5,"kind":"heavy"},{"price":78.4,"kind":"gray"},{"price":76.9,"kind":"slate"},{"price":71.06,"kind":"gray"},{"price":69.76,"kind":"reddot"},{"price":80.745,"kind":"thin"},{"price":80.775,"kind":"blackdot"}
          ]},
          "mark": {"type": "rule"},
          "encoding": {
            "x": {"datum": -1.9, "title": null},
            "x2": {"datum": 62.6},
            "y": {"field": "price", "type": "quantitative", "title": null},
            "color": {"field": "kind", "scale": {"domain": ["heavy","thin","gray","slate","maroon","reddot","graydot","blackdot"], "range": ["#000000","#000000","#666666","#7c7f8a","#801922","#f23645","#787b86","#000000"]}, "legend": null},
            "strokeWidth": {"field": "kind", "type": "nominal", "scale": {"type": "ordinal", "domain": ["heavy","thin","gray","slate","maroon","reddot","graydot","blackdot"], "range": [5.5,3,8,8,6,2,2,2.5]}, "legend": null},
            "strokeDash": {"field": "kind", "scale": {"domain": ["heavy","thin","gray","slate","maroon","reddot","graydot","blackdot"], "range": [[1,0],[1,0],[1,0],[1,0],[1,0],[2,4],[2,3],[2,3]]}, "legend": null}
          }
        },
        {
          "data": {"values": [{"price":70.59}]},
          "mark": {"type": "rule", "color": "#000000", "strokeWidth": 5.5},
          "encoding": {"x": {"datum": -1, "title": null}, "x2": {"datum": 62.6}, "y": {"field": "price", "type": "quantitative", "title": null}}
        },
        {
          "data": {"name": "leftBars"},
          "mark": {"type": "rule", "strokeWidth": 1.6, "clip": true},
          "encoding": {
            "x": {"field": "i", "type": "quantitative", "title": null},
            "y": {"field": "l", "type": "quantitative", "title": null},
            "y2": {"field": "h"},
            "color": {"field": "d", "scale": {"domain": ["g","r"], "range": ["#0c5c1a","#8a1420"]}, "legend": null}
          }
        },
        {
          "data": {"name": "leftBars"},
          "mark": {"type": "bar", "size": 14, "clip": true},
          "encoding": {
            "x": {"field": "i", "type": "quantitative", "title": null},
            "y": {"field": "o", "type": "quantitative", "title": null},
            "y2": {"field": "c"},
            "color": {"field": "d", "scale": {"domain": ["g","r"], "range": ["#089981","#f23645"]}, "legend": null}
          }
        },
        {
          "data": {"values": [{"i":1.19,"p":67.36},{"i":62.58,"p":68.92}]},
          "mark": {"type": "line", "color": "#6abf6e", "strokeWidth": 5.5},
          "encoding": {"x": {"field": "i", "type": "quantitative", "title": null}, "y": {"field": "p", "type": "quantitative", "title": null}}
        },
        {
          "data": {"values": [{"i":38,"p":70.59}]},
          "mark": {"type": "circle", "color": "#f23645", "opacity": 0.4, "size": 1735},
          "encoding": {"x": {"field": "i", "type": "quantitative", "title": null}, "y": {"field": "p", "type": "quantitative", "title": null}}
        },
        {
          "data": {"values": [{"i":33,"p":68.2}]},
          "mark": {"type": "circle", "color": "#4caf50", "opacity": 0.45, "size": 3217},
          "encoding": {"x": {"field": "i", "type": "quantitative", "title": null}, "y": {"field": "p", "type": "quantitative", "title": null}}
        },
        {
          "data": {"values": [
            {"path":"a","i":40,"p":68.3},{"path":"a","i":41,"p":69.1},{"path":"a","i":42.06,"p":68.31},{"path":"a","i":43.9,"p":70.59},{"path":"a","i":45,"p":70.08},{"path":"a","i":47,"p":72.43},
            {"path":"b","i":45.1,"p":72.16},{"path":"b","i":47,"p":72.43},{"path":"b","i":48.3,"p":72.06}
          ]},
          "mark": {"type": "line", "color": "#4caf50", "strokeWidth": 5, "strokeCap": "round", "strokeJoin": "round"},
          "encoding": {"x": {"field": "i", "type": "quantitative", "title": null}, "y": {"field": "p", "type": "quantitative", "title": null}, "detail": {"field": "path"}}
        },
        {
          "data": {"values": [
            {"path":"a","i":35.4,"p":70.29},{"path":"a","i":36.1,"p":69.94},{"path":"a","i":37.9,"p":70.57},{"path":"a","i":39,"p":68.27},
            {"path":"b","i":37.2,"p":68.57},{"path":"b","i":39,"p":68.27},{"path":"b","i":40.2,"p":68.59}
          ]},
          "mark": {"type": "line", "color": "#f23645", "strokeWidth": 5, "strokeCap": "round", "strokeJoin": "round"},
          "encoding": {"x": {"field": "i", "type": "quantitative", "title": null}, "y": {"field": "p", "type": "quantitative", "title": null}, "detail": {"field": "path"}}
        },
        {
          "data": {"values": [
            {"y":80.76,"kind":"black"},{"y":78.4,"kind":"black"},{"y":76.9,"kind":"slate"},{"y":72.5,"kind":"black"},{"y":71.06,"kind":"black"},{"y":70.59,"kind":"black"},{"y":69.76,"kind":"red"},{"y":68.31,"kind":"black"},{"y":67.97,"kind":"maroon"}
          ]},
          "mark": {"type": "bar", "orient": "horizontal", "size": 34, "cornerRadius": 3},
          "encoding": {
            "x": {"datum": 62.72, "title": null},
            "x2": {"datum": 67.1},
            "y": {"field": "y", "type": "quantitative", "title": null},
            "color": {"field": "kind", "scale": {"domain": ["black","slate","red","maroon"], "range": ["#000000","#7c7f8a","#f23645","#801922"]}, "legend": null}
          }
        },
        {
          "data": {"values": [
            {"y":80.76,"label":"80.76"},{"y":78.4,"label":"78.40"},{"y":76.9,"label":"76.90"},{"y":72.5,"label":"72.50"},{"y":71.06,"label":"71.06"},{"y":70.59,"label":"70.59"},{"y":69.76,"label":"69.76"},{"y":68.31,"label":"68.31"},{"y":67.97,"label":"68.29"}
          ]},
          "mark": {"type": "text", "color": "#ffffff", "font": "Open Sans", "fontSize": 23.5, "align": "center", "baseline": "middle"},
          "encoding": {"x": {"datum": 64.9, "title": null}, "y": {"field": "y", "type": "quantitative", "title": null}, "text": {"field": "label"}}
        },
        {
          "data": {"values": [
            {"y":80.5,"label":"YPVAH"},{"y":72.26,"label":"QPVAH"},{"y":70.35,"label":"YPVAL"},{"y":68.53,"label":"DE-VWAP"},{"y":68.08,"label":"QPVAL"}
          ]},
          "mark": {"type": "text", "color": "#131722", "font": "Open Sans", "fontSize": 25.5, "align": "right", "baseline": "middle"},
          "encoding": {"x": {"datum": 61.8, "title": null}, "y": {"field": "y", "type": "quantitative", "title": null}, "text": {"field": "label"}}
        },
        {
          "data": {"values": [
            {"i":-1,"kind":"dark","label":"Light Crude Oil Futures, 1D, NYMEX"},{"i":19.3,"kind":"dark","label":"O"},{"i":20,"kind":"red","label":"70.17"},{"i":23.9,"kind":"dark","label":"H"},{"i":24.6,"kind":"red","label":"70.29"},{"i":28.5,"kind":"dark","label":"L"},{"i":29.1,"kind":"red","label":"69.14"},{"i":32.9,"kind":"dark","label":"C"},{"i":33.6,"kind":"red","label":"69.76"},{"i":37.5,"kind":"red","label":"−0.59"},{"i":40.9,"kind":"red","label":"(−0.84%)"}
          ]},
          "mark": {"type": "text", "font": "Open Sans", "fontSize": 23, "align": "left", "baseline": "middle"},
          "encoding": {
            "x": {"field": "i", "type": "quantitative", "title": null},
            "y": {"datum": 80.68, "title": null},
            "text": {"field": "label"},
            "color": {"field": "kind", "scale": {"domain": ["dark","red"], "range": ["#131722","#f23645"]}, "legend": null}
          }
        },
        {
          "data": {"values": [{"i":-0.93,"p":66.44}]},
          "mark": {"type": "point", "shape": "M-1 -0.5H-0.2V0.5H-0.6V-0.1H-1ZM-0.05 -0.3A0.2 0.2 0 1 0 0.35 -0.3A0.2 0.2 0 1 0 -0.05 -0.3ZM0.45 -0.5H1L0.55 0.5H0Z", "size": 1444, "filled": true, "color": "#ffffff", "opacity": 1},
          "encoding": {"x": {"field": "i", "type": "quantitative", "title": null}, "y": {"field": "p", "type": "quantitative", "title": null}}
        },
        {
          "data": {"values": [{"i":0.51,"p":66.44,"label":"TradingView"}]},
          "mark": {"type": "text", "color": "#e6e6e6", "font": "Open Sans", "fontSize": 25, "align": "left", "baseline": "middle"},
          "encoding": {"x": {"field": "i", "type": "quantitative", "title": null}, "y": {"field": "p", "type": "quantitative", "title": null}, "text": {"field": "label"}}
        }
      ]
    },
    {
      "width": 1158,
      "height": 1398,
      "resolve": {"scale": {"color": "independent", "strokeWidth": "independent", "strokeDash": "independent"}},
      "layer": [
        {
          "data": {"values": [{"price":68.5},{"price":69},{"price":69.5},{"price":70},{"price":70.5},{"price":71},{"price":71.5},{"price":72},{"price":72.5},{"price":73}]},
          "mark": {"type": "rule", "color": "#f2f3f5", "strokeWidth": 2.5},
          "encoding": {
            "x": {"datum": 0, "type": "quantitative", "title": null, "scale": {"domain": [0, 407.7], "nice": false, "zero": false, "padding": 0}, "axis": {"values": [25.2,93,185.2,255.3,321.1], "orient": "bottom", "offset": -55, "zindex": 1, "labelPadding": 18, "labelFontSize": 23, "labelFont": "Open Sans", "labelColor": "#131722", "labelFontWeight": {"condition": {"test": "datum.value==321.1", "value": "bold"}, "value": "normal"}, "labelExpr": "datum.value==25.2||datum.value==255.3?'12:00':datum.value==93?'24':datum.value==185.2?'26':'Mar'", "labelOverlap": false, "labelBound": false, "labelFlush": false, "domain": false, "ticks": false, "grid": false, "title": null}},
            "x2": {"datum": 369.7},
            "y": {"field": "price", "type": "quantitative", "title": null, "scale": {"domain": [67.871, 73.403], "nice": false, "zero": false, "padding": 0}, "axis": {"values": [68.5,69,69.5,70,70.5,71,71.5,72,72.5,73], "orient": "right", "offset": -106, "labelPadding": 17, "format": ".2f", "labelFontSize": 23, "labelFont": "Open Sans", "labelColor": "#131722", "labelOverlap": false, "labelBound": false, "domain": false, "ticks": false, "grid": false, "title": null}}
          }
        },
        {
          "data": {"values": [{"t":25.2},{"t":93},{"t":185.2},{"t":255.3},{"t":321.1}]},
          "mark": {"type": "rule", "color": "#f2f3f5", "strokeWidth": 2.5},
          "encoding": {"x": {"field": "t", "type": "quantitative", "title": null}, "y": {"datum": 68.088, "title": null}, "y2": {"datum": 73.403}}
        },
        {
          "data": {"name": "rightBand"},
          "mark": {"type": "area", "color": "#dcdcdc"},
          "encoding": {"x": {"field": "b", "type": "quantitative", "title": null}, "y": {"field": "upper", "type": "quantitative", "title": null}, "y2": {"field": "lower"}}
        },
        {
          "data": {"name": "rightBand"},
          "mark": {"type": "line", "color": "#a0a0a0", "strokeWidth": 4},
          "encoding": {"x": {"field": "b", "type": "quantitative", "title": null}, "y": {"field": "upper", "type": "quantitative", "title": null}}
        },
        {
          "data": {"name": "rightBand"},
          "mark": {"type": "line", "color": "#a0a0a0", "strokeWidth": 4},
          "encoding": {"x": {"field": "b", "type": "quantitative", "title": null}, "y": {"field": "lower", "type": "quantitative", "title": null}}
        },
        {
          "data": {"name": "rightMid"},
          "mark": {"type": "line", "color": "#ec2866", "strokeWidth": 2},
          "encoding": {"x": {"field": "b", "type": "quantitative", "title": null}, "y": {"field": "p", "type": "quantitative", "title": null}}
        },
        {
          "data": {"values": [{"price":72.241}]},
          "mark": {"type": "rule", "color": "#b99ac8", "strokeWidth": 6},
          "encoding": {"x": {"datum": 0, "title": null}, "x2": {"datum": 320.5}, "y": {"field": "price", "type": "quantitative", "title": null}}
        },
        {
          "data": {"name": "rightBars"},
          "mark": {"type": "rule", "strokeWidth": 2.2},
          "encoding": {
            "x": {"field": "b", "type": "quantitative", "title": null},
            "y": {"field": "l", "type": "quantitative", "title": null},
            "y2": {"field": "h"},
            "color": {"field": "d", "scale": {"domain": ["g","r"], "range": ["#089981","#f23645"]}, "legend": null}
          }
        },
        {
          "data": {"name": "rightEma"},
          "mark": {"type": "line", "color": "#f23645", "strokeWidth": 2, "opacity": 0.85},
          "encoding": {"x": {"field": "b", "type": "quantitative", "title": null}, "y": {"field": "p", "type": "quantitative", "title": null}}
        },
        {
          "data": {"values": [
            {"price":73.22,"kind":"thin"},{"price":73.143,"kind":"graydot"},{"price":72.5,"kind":"heavy"},{"price":71.06,"kind":"gray"},{"price":70.59,"kind":"heavy"},{"price":70.454,"kind":"blackdot"},{"price":70.35,"kind":"purpledot"},{"price":69.95,"kind":"reddot"},{"price":69.594,"kind":"blackdot"},{"price":68.36,"kind":"graydot"},{"price":68.29,"kind":"maroon"},{"price":68.31,"kind":"heavy"}
          ]},
          "mark": {"type": "rule"},
          "encoding": {
            "x": {"datum": 0, "title": null},
            "x2": {"datum": 369.7},
            "y": {"field": "price", "type": "quantitative", "title": null},
            "color": {"field": "kind", "scale": {"domain": ["heavy","thin","gray","maroon","reddot","graydot","blackdot","purpledot"], "range": ["#000000","#000000","#666666","#801922","#f23645","#787b86","#000000","#7e57c2"]}, "legend": null},
            "strokeWidth": {"field": "kind", "type": "nominal", "scale": {"type": "ordinal", "domain": ["heavy","thin","gray","maroon","reddot","graydot","blackdot","purpledot"], "range": [5.5,3.5,8,6,2,2,2.5,2.5]}, "legend": null},
            "strokeDash": {"field": "kind", "scale": {"domain": ["heavy","thin","gray","maroon","reddot","graydot","blackdot","purpledot"], "range": [[1,0],[1,0],[1,0],[1,0],[2,5],[2,5],[2,5],[2,5]]}, "legend": null}
          }
        },
        {
          "data": {"values": [
            {"from":0,"to":44.7,"price":72.612},{"from":0,"to":44.7,"price":72.053},{"from":44.7,"to":90.7,"price":72.903},{"from":44.7,"to":90.7,"price":72.283},{"from":90.7,"to":136.6,"price":72.172},{"from":90.7,"to":136.6,"price":70.813},{"from":136.6,"to":182.6,"price":70.753},{"from":136.6,"to":182.6,"price":70.294},{"from":182.6,"to":228.6,"price":70.173},{"from":182.6,"to":228.6,"price":68.693},{"from":228.6,"to":274.8,"price":69.123},{"from":228.6,"to":274.8,"price":68.702},{"from":274.8,"to":320.5,"price":70.454},{"from":274.8,"to":320.5,"price":69.594}
          ]},
          "mark": {"type": "rule", "color": "#000000", "strokeWidth": 4, "strokeCap": "round"},
          "encoding": {"x": {"field": "from", "type": "quantitative", "title": null}, "x2": {"field": "to"}, "y": {"field": "price", "type": "quantitative", "title": null}}
        },
        {
          "data": {"values": [{"b":0,"p":68.215},{"b":369.7,"p":68.423}]},
          "mark": {"type": "line", "color": "#6abf6e", "strokeWidth": 5.5},
          "encoding": {"x": {"field": "b", "type": "quantitative", "title": null}, "y": {"field": "p", "type": "quantitative", "title": null}}
        },
        {
          "data": {"values": [{"b":144.1,"p":71.03}]},
          "mark": {"type": "circle", "color": "#f23645", "opacity": 0.42, "size": 4536},
          "encoding": {"x": {"field": "b", "type": "quantitative", "title": null}, "y": {"field": "p", "type": "quantitative", "title": null}}
        },
        {
          "data": {"values": [{"b":140.9,"p":68.337}]},
          "mark": {"type": "circle", "color": "#4caf50", "opacity": 0.45, "size": 25447},
          "encoding": {"x": {"field": "b", "type": "quantitative", "title": null}, "y": {"field": "p", "type": "quantitative", "title": null}}
        },
        {
          "data": {"values": [{"a":1}]},
          "mark": {"type": "rect", "color": "#ffffff"},
          "encoding": {"x": {"datum": 0, "title": null}, "x2": {"datum": 407.7}, "y": {"datum": 67.871, "title": null}, "y2": {"datum": 68.088}}
        },
        {
          "data": {"values": [
            {"path":"a","b":94.95,"p":70.217},{"path":"a","b":124.9,"p":71.055},{"path":"a","b":171.4,"p":68.335},
            {"path":"b","b":108.7,"p":70.593},{"path":"b","b":136.9,"p":68.339},
            {"path":"c","b":124.9,"p":68.449},{"path":"c","b":136.9,"p":68.339},{"path":"c","b":146.8,"p":68.485},
            {"path":"d","b":158.3,"p":68.436},{"path":"d","b":171.4,"p":68.335},{"path":"d","b":180.2,"p":68.485}
          ]},
          "mark": {"type": "line", "color": "#f23645", "strokeWidth": 7, "strokeCap": "round", "strokeJoin": "round"},
          "encoding": {"x": {"field": "b", "type": "quantitative", "title": null}, "y": {"field": "p", "type": "quantitative", "title": null}, "detail": {"field": "path"}}
        },
        {
          "data": {"values": [
            {"path":"a","b":180.7,"p":68.341},{"path":"a","b":189,"p":68.655},{"path":"a","b":201,"p":68.321},{"path":"a","b":213.6,"p":70.551},
            {"path":"b","b":201.6,"p":70.434},{"path":"b","b":213.6,"p":70.551},{"path":"b","b":223.5,"p":70.418}
          ]},
          "mark": {"type": "line", "color": "#4caf50", "strokeWidth": 6, "strokeCap": "round", "strokeJoin": "round"},
          "encoding": {"x": {"field": "b", "type": "quantitative", "title": null}, "y": {"field": "p", "type": "quantitative", "title": null}, "detail": {"field": "path"}}
        },
        {
          "data": {"values": [{"b":320,"p":68.19}]},
          "mark": {"type": "point", "shape": "circle", "size": 1320, "color": "#9c27b0", "strokeWidth": 3, "opacity": 1},
          "encoding": {"x": {"field": "b", "type": "quantitative", "title": null}, "y": {"field": "p", "type": "quantitative", "title": null}}
        },
        {
          "data": {"values": [{"b":320,"p":68.19}]},
          "mark": {"type": "point", "shape": "M0.3 -1L-0.6 0.2H0L-0.3 1L0.6 -0.2H0Z", "size": 400, "filled": true, "color": "#9c27b0", "opacity": 1},
          "encoding": {"x": {"field": "b", "type": "quantitative", "title": null}, "y": {"field": "p", "type": "quantitative", "title": null}}
        },
        {
          "data": {"values": [{"b":325,"p":68.244}]},
          "mark": {"type": "circle", "size": 90, "color": "#f23645", "opacity": 1},
          "encoding": {"x": {"field": "b", "type": "quantitative", "title": null}, "y": {"field": "p", "type": "quantitative", "title": null}}
        },
        {
          "data": {"values": [
            {"y":73.22,"kind":"black"},{"y":72.5,"kind":"black"},{"y":71.06,"kind":"black"},{"y":70.59,"kind":"black"},{"y":70.35,"kind":"purple"},{"y":69.95,"kind":"red"},{"y":68.31,"kind":"black"},{"y":68.175,"kind":"maroon"}
          ]},
          "mark": {"type": "bar", "orient": "horizontal", "size": 34, "cornerRadius": 3},
          "encoding": {
            "x": {"datum": 370.4, "title": null},
            "x2": {"datum": 400.7},
            "y": {"field": "y", "type": "quantitative", "title": null},
            "color": {"field": "kind", "scale": {"domain": ["black","purple","red","maroon"], "range": ["#000000","#7e57c2","#f23645","#801922"]}, "legend": null}
          }
        },
        {
          "data": {"values": [
            {"y":73.22,"label":"73.22"},{"y":72.5,"label":"72.50"},{"y":71.06,"label":"71.06"},{"y":70.59,"label":"70.59"},{"y":70.35,"label":"70.35"},{"y":69.95,"label":"69.95"},{"y":68.31,"label":"68.31"},{"y":68.175,"label":"68.29"}
          ]},
          "mark": {"type": "text", "color": "#ffffff", "font": "Open Sans", "fontSize": 23.5, "align": "center", "baseline": "middle"},
          "encoding": {"x": {"datum": 385.6, "title": null}, "y": {"field": "y", "type": "quantitative", "title": null}, "text": {"field": "label"}}
        },
        {
          "data": {"values": [
            {"y":72.41,"label":"QPVAH"},{"y":70.49,"label":"YPVAL"},{"y":68.39,"label":"DE-VWAP"},{"y":68.22,"label":"QPVAL"}
          ]},
          "mark": {"type": "text", "color": "#131722", "font": "Open Sans", "fontSize": 25.5, "align": "right", "baseline": "middle"},
          "encoding": {"x": {"datum": 364.4, "title": null}, "y": {"field": "y", "type": "quantitative", "title": null}, "text": {"field": "label"}}
        },
        {
          "data": {"values": [{"y":73.15,"label":"MPVAL"}]},
          "mark": {"type": "text", "color": "#131722", "font": "Open Sans", "fontSize": 20, "align": "right", "baseline": "middle"},
          "encoding": {"x": {"datum": 364.4, "title": null}, "y": {"field": "y", "type": "quantitative", "title": null}, "text": {"field": "label"}}
        },
        {
          "data": {"values": [
            {"b":6,"kind":"dark","label":"Light Crude Oil Futures, 30, NYMEX"},{"b":144.4,"kind":"dark","label":"O"},{"b":150.3,"kind":"red","label":"70.05"},{"b":176.2,"kind":"dark","label":"H"},{"b":181.5,"kind":"red","label":"70.06"},{"b":207.4,"kind":"dark","label":"L"},{"b":211.5,"kind":"red","label":"69.91"},{"b":237.6,"kind":"dark","label":"C"},{"b":242.5,"kind":"red","label":"69.95"},{"b":268.4,"kind":"red","label":"−0.10"},{"b":288.4,"kind":"red","label":"(−0.14%)"}
          ]},
          "mark": {"type": "text", "font": "Open Sans", "fontSize": 23, "align": "left", "baseline": "middle"},
          "encoding": {
            "x": {"field": "b", "type": "quantitative", "title": null},
            "y": {"datum": 73.284, "title": null},
            "text": {"field": "label"},
            "color": {"field": "kind", "scale": {"domain": ["dark","red"], "range": ["#131722","#f23645"]}, "legend": null}
          }
        }
      ]
    }
  ]
}
